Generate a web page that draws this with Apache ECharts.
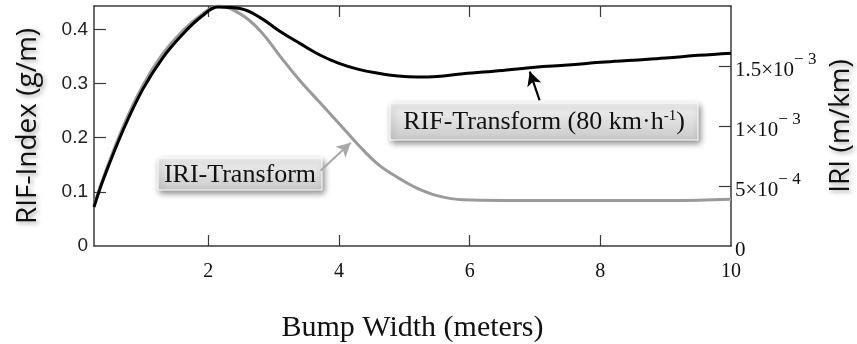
<!DOCTYPE html>
<html>
<head>
<meta charset="utf-8">
<script src="https://cdn.jsdelivr.net/npm/echarts@6/dist/echarts.min.js"></script>
<style>
  html, body { margin: 0; padding: 0; background: #fff; }
  #chart { width: 857px; height: 344px; }
</style>
</head>
<body>
<div id="chart"></div>
<script>
// bump width (m)
const bumpWidth = [0.25, 0.4, 0.7, 1.0, 1.3, 1.6, 1.9, 2.15, 2.5, 2.8, 3.1, 3.4, 3.7, 4.0, 4.3, 4.6, 4.9, 5.2, 5.5, 5.9, 6.5, 7.0, 7.5, 8.0, 8.5, 9.0, 9.5, 10];
// RIF-Transform, g/m (left axis)
const rifIndex = [0.072, 0.125, 0.215, 0.29, 0.347, 0.39, 0.424, 0.441, 0.438, 0.421, 0.396, 0.374, 0.353, 0.337, 0.326, 0.319, 0.314, 0.312, 0.313, 0.318, 0.324, 0.330, 0.334, 0.339, 0.343, 0.347, 0.352, 0.356];
// IRI-Transform, m/km (right axis)
const iri = [0.00034, 0.00058, 0.0010, 0.00134, 0.0016, 0.00179, 0.00193, 0.0020, 0.00193, 0.00179, 0.00158, 0.00138, 0.0012, 0.00102, 0.00084, 0.00068, 0.00057, 0.00048, 0.00042, 0.000385, 0.00038, 0.00038, 0.00038, 0.00038, 0.00038, 0.00038, 0.000382, 0.00039];

const xTicks = [2, 4, 6, 8, 10];
const leftTicks = [0, 0.1, 0.2, 0.3, 0.4];
const rightTicks = [0, 0.0005, 0.001, 0.0015];
const rightTickText = {
  0: '{a|0}',
  0.0005: '{a|5×10}{s|− 4}',
  0.001: '{a|1×10}{s|− 3}',
  0.0015: '{a|1.5×10}{s|− 3}'
};

const serif = 'Liberation Serif';
const axisColor = '#3a3a3a';

const chart = echarts.init(document.getElementById('chart'));

function box(x, y, w, h, rich) {
  return {
    type: 'group', x: x, y: y,
    children: [
      {
        type: 'rect',
        shape: { x: 0, y: 0, width: w, height: h },
        style: {
          fill: new echarts.graphic.LinearGradient(0, 0, 0, 1, [
            { offset: 0, color: '#f4f4f4' },
            { offset: 1, color: '#c9c9c9' }
          ]),
          stroke: '#ffffff', lineWidth: 1,
          shadowColor: 'rgba(0,0,0,0.45)', shadowBlur: 6, shadowOffsetX: 2, shadowOffsetY: 3
        }
      },
      {
        type: 'text',
        x: w / 2, y: h / 2 + 1,
        style: {
          text: rich, align: 'center', verticalAlign: 'middle',
          rich: {
            t: { fontFamily: serif, fontSize: 26, fill: '#111' },
            s: { fontFamily: serif, fontSize: 15, fill: '#111', padding: [0, 0, 12, 0] }
          }
        }
      }
    ]
  };
}

const nameStyle = {
  fontFamily: 'Open Sans', fontSize: 28, color: '#111',
  textShadowColor: 'rgba(0,0,0,0.35)', textShadowBlur: 4, textShadowOffsetX: 2, textShadowOffsetY: 2
};

chart.setOption({
  animation: false,
  grid: { left: 94, right: 126, top: 6, bottom: 98, containLabel: false, outerBoundsMode: 'none' },
  xAxis: [
    {
      type: 'value', min: 0.25, max: 10,
      name: 'Bump Width (meters)', nameLocation: 'middle', nameGap: 67,
      nameTextStyle: { fontFamily: serif, fontSize: 30, color: '#111' },
      axisLine: { show: true, lineStyle: { color: axisColor, width: 1.5 } },
      axisTick: { show: true, inside: true, length: 11, customValues: [2, 4, 6, 8], lineStyle: { color: axisColor, width: 1.2 } },
      axisLabel: { customValues: xTicks, fontFamily: serif, fontSize: 20, color: '#111', margin: 16 },
      splitLine: { show: false }
    },
    {
      type: 'value', position: 'top', min: 0.25, max: 10,
      axisLine: { show: true, onZero: false, lineStyle: { color: axisColor, width: 1.5 } },
      axisTick: { show: true, inside: true, length: 11, customValues: [2, 4, 6, 8], lineStyle: { color: axisColor, width: 1.2 } },
      axisLabel: { show: false },
      splitLine: { show: false }
    }
  ],
  yAxis: [
    {
      type: 'value', min: 0, max: 0.443, position: 'left',
      name: 'RIF-Index (g/m)', nameLocation: 'middle', nameGap: 52, nameRotate: 90,
      nameTextStyle: nameStyle,
      axisLine: { show: true, lineStyle: { color: axisColor, width: 1.5 } },
      axisTick: { show: true, inside: true, length: 12, customValues: [0.1, 0.2, 0.3, 0.4], lineStyle: { color: axisColor, width: 1.2 } },
      axisLabel: { customValues: leftTicks, fontFamily: 'Liberation Sans', fontSize: 19, color: '#222', margin: 6 },
      splitLine: { show: false }
    },
    {
      type: 'value', min: 0, max: 0.002, position: 'right',
      name: 'IRI (m/km)', nameLocation: 'middle', nameGap: 94, nameRotate: 90,
      nameTextStyle: nameStyle,
      axisLine: { show: true, lineStyle: { color: axisColor, width: 1.5 } },
      axisTick: { show: true, inside: true, length: 12, customValues: [0.0005, 0.001, 0.0015], lineStyle: { color: axisColor, width: 1.2 } },
      axisLabel: {
        customValues: rightTicks, margin: 4, align: 'left',
        formatter: function (v) { return rightTickText[v] || ''; },
        rich: {
          a: { fontFamily: serif, fontSize: 21, color: '#111', padding: [8, 0, 0, 0] },
          s: { fontFamily: serif, fontSize: 17, color: '#111', padding: [0, 0, 12, 0] }
        }
      },
      splitLine: { show: false }
    }
  ],
  series: [
    {
      name: 'IRI-Transform', type: 'line', yAxisIndex: 1, smooth: 0.4, symbol: 'none',
      lineStyle: { color: '#9a9a9a', width: 3 },
      data: bumpWidth.map((x, i) => [x, iri[i]]),
      markLine: {
        silent: true, symbol: ['none', 'arrow'], symbolSize: [11, 14],
        lineStyle: { color: '#a8a8a8', width: 2, type: 'solid' },
        label: { show: false },
        data: [[{ coord: [3.72, 0.00063] }, { coord: [4.18, 0.00086] }]]
      }
    },
    {
      name: 'RIF-Transform', type: 'line', yAxisIndex: 0, smooth: 0.4, symbol: 'none',
      lineStyle: { color: '#000', width: 3 },
      data: bumpWidth.map((x, i) => [x, rifIndex[i]]),
      markLine: {
        silent: true, symbol: ['none', 'arrow'], symbolSize: [11, 14],
        lineStyle: { color: '#000', width: 2.2, type: 'solid' },
        label: { show: false },
        data: [[{ coord: [7.07, 0.269] }, { coord: [6.92, 0.322] }]]
      }
    }
  ],
  graphic: [
    box(390, 103, 308, 37, '{t|RIF-Transform (80 km·h}{s|-1}{t|)}'),
    box(158, 158, 164, 32, '{t|IRI-Transform}')
  ]
});
</script>
</body>
</html>
